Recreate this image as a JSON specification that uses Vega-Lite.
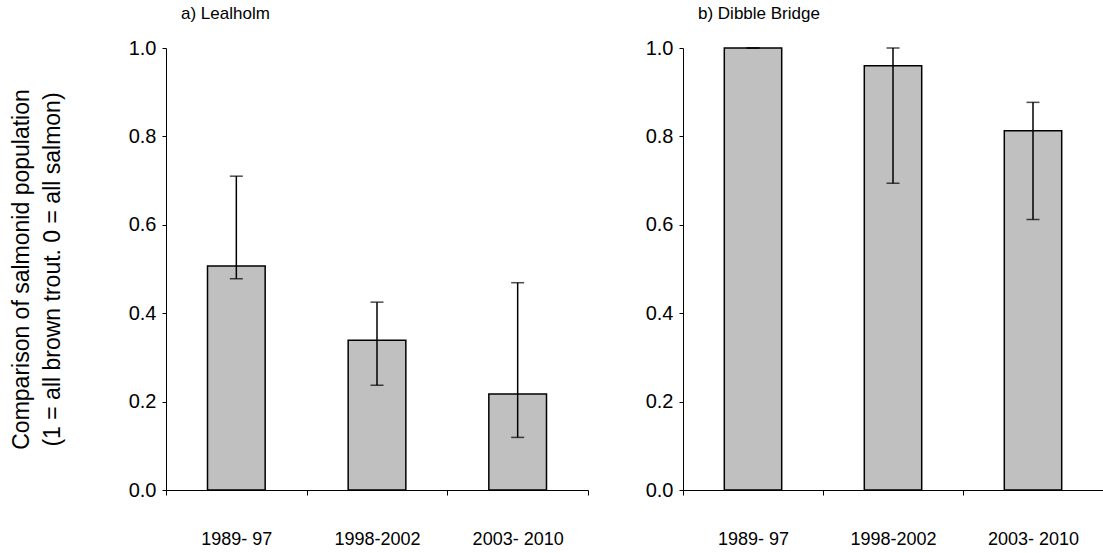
{
  "$schema": "https://vega.github.io/schema/vega-lite/v6.json",
  "padding": {"left": 10, "top": 5, "right": 0, "bottom": 0},
  "config": {
    "font": "Liberation Sans",
    "view": {"stroke": null},
    "axis": {"domainColor": "black", "tickColor": "black", "labelColor": "black", "titleColor": "black", "domainWidth": 1, "tickWidth": 1, "grid": false},
    "title": {"color": "black", "fontWeight": "normal"}
  },
  "datasets": {
    "d": [
      {"site": "a", "period": "1989- 97", "value": 0.507, "lo": 0.478, "hi": 0.710},
      {"site": "a", "period": "1998-2002", "value": 0.339, "lo": 0.237, "hi": 0.425},
      {"site": "a", "period": "2003- 2010", "value": 0.217, "lo": 0.119, "hi": 0.469},
      {"site": "b", "period": "1989- 97", "value": 1.0, "lo": 1.0, "hi": 1.0},
      {"site": "b", "period": "1998-2002", "value": 0.960, "lo": 0.694, "hi": 1.0},
      {"site": "b", "period": "2003- 2010", "value": 0.813, "lo": 0.612, "hi": 0.877}
    ]
  },
  "spacing": 56,
  "hconcat": [
    {
      "data": {"name": "d"},
      "width": 422,
      "height": 442,
      "title": {"text": "a) Lealholm", "anchor": "start", "frame": "group", "fontSize": 17, "offset": 15, "dx": 15},
      "transform": [{"filter": "datum.site == 'a'"}],
      "encoding": {
        "x": {"field": "period", "type": "nominal", "sort": null, "scale": {"paddingInner": 0, "paddingOuter": 0},
              "axis": {"title": null, "labelAngle": 0, "labelFontSize": 18, "tickBand": "extent", "tickSize": 5, "labelPadding": 35}}
      },
      "layer": [
        {"mark": {"type": "bar", "fill": "#c0c0c0", "stroke": "black", "strokeWidth": 1.5, "width": {"band": 0.41}},
         "encoding": {"y": {"field": "value", "type": "quantitative", "scale": {"domain": [0, 1], "nice": false},
           "axis": {"values": [0, 0.2, 0.4, 0.6, 0.8, 1.0], "format": ".1f", "labelFontSize": 20, "tickSize": 4, "labelPadding": 6,
             "title": ["Comparison of salmonid population", "(1 = all brown trout. 0 = all salmon)"], "titleFontSize": 23, "titleFontWeight": "normal", "titleLineHeight": 31, "titlePadding": 64}}}},
        {"mark": {"type": "rule", "strokeWidth": 1.5, "color": "black"},
         "encoding": {"y": {"field": "lo", "type": "quantitative"}, "y2": {"field": "hi"}}},
        {"mark": {"type": "tick", "orient": "horizontal", "size": 13, "thickness": 1.5, "color": "black"},
         "encoding": {"y": {"field": "hi", "type": "quantitative"}}},
        {"mark": {"type": "tick", "orient": "horizontal", "size": 13, "thickness": 1.5, "color": "black"},
         "encoding": {"y": {"field": "lo", "type": "quantitative"}}}
      ]
    },
    {
      "data": {"name": "d"},
      "width": 420,
      "height": 442,
      "title": {"text": "b) Dibble Bridge", "anchor": "start", "frame": "group", "fontSize": 17, "offset": 15, "dx": 15},
      "transform": [{"filter": "datum.site == 'b'"}],
      "encoding": {
        "x": {"field": "period", "type": "nominal", "sort": null, "scale": {"paddingInner": 0, "paddingOuter": 0},
              "axis": {"title": null, "labelAngle": 0, "labelFontSize": 18, "tickBand": "extent", "tickSize": 5, "labelPadding": 35}}
      },
      "layer": [
        {"mark": {"type": "bar", "fill": "#c0c0c0", "stroke": "black", "strokeWidth": 1.5, "width": {"band": 0.41}},
         "encoding": {"y": {"field": "value", "type": "quantitative", "scale": {"domain": [0, 1], "nice": false},
           "axis": {"values": [0, 0.2, 0.4, 0.6, 0.8, 1.0], "format": ".1f", "labelFontSize": 20, "tickSize": 4, "labelPadding": 6, "title": null}}}},
        {"mark": {"type": "rule", "strokeWidth": 1.5, "color": "black"},
         "encoding": {"y": {"field": "lo", "type": "quantitative"}, "y2": {"field": "hi"}}},
        {"mark": {"type": "tick", "orient": "horizontal", "size": 13, "thickness": 1.5, "color": "black"},
         "encoding": {"y": {"field": "hi", "type": "quantitative"}}},
        {"mark": {"type": "tick", "orient": "horizontal", "size": 13, "thickness": 1.5, "color": "black"},
         "encoding": {"y": {"field": "lo", "type": "quantitative"}}}
      ]
    }
  ]
}
